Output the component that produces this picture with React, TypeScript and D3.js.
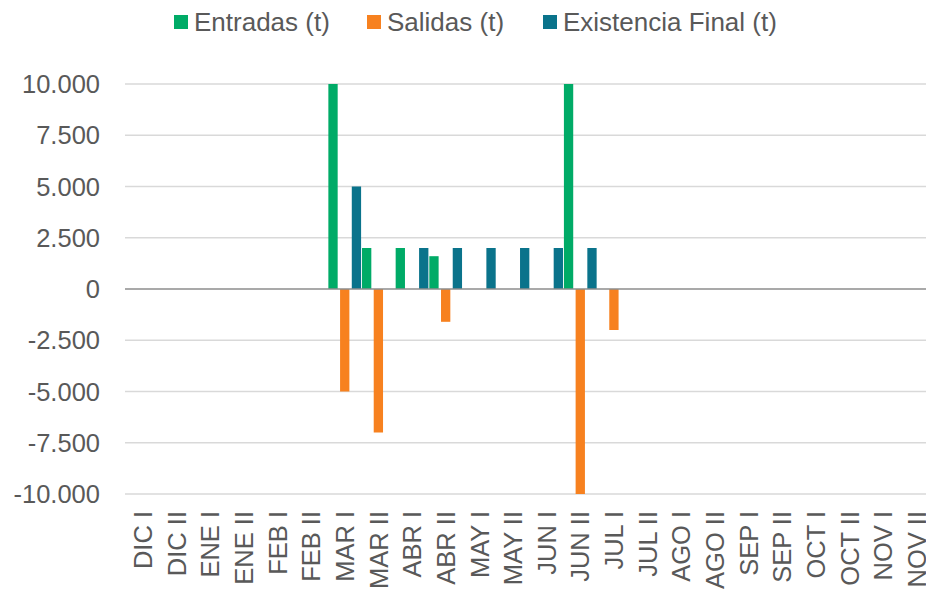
import * as d3 from 'd3';
import React, { useRef, useEffect } from 'react';

const categories = [
  'DIC I', 'DIC II', 'ENE I', 'ENE II', 'FEB I', 'FEB II', 'MAR I', 'MAR II',
  'ABR I', 'ABR II', 'MAY I', 'MAY II', 'JUN I', 'JUN II', 'JUL I', 'JUL II',
  'AGO I', 'AGO II', 'SEP I', 'SEP II', 'OCT I', 'OCT II', 'NOV I', 'NOV II'
];

const entradas = [0, 0, 0, 0, 0, 0, 10000, 2000, 2000, 1600, 0, 0, 0, 10000, 0, 0, 0, 0, 0, 0, 0, 0, 0, 0];
const salidas = [0, 0, 0, 0, 0, 0, -5000, -7000, 0, -1600, 0, 0, 0, -10000, -2000, 0, 0, 0, 0, 0, 0, 0, 0, 0];
const existencia = [0, 0, 0, 0, 0, 0, 5000, 0, 2000, 2000, 2000, 2000, 2000, 2000, 0, 0, 0, 0, 0, 0, 0, 0, 0, 0];

const seriesNames = ['Entradas (t)', 'Salidas (t)', 'Existencia Final (t)'];
const seriesColors = ['#00AB67', '#F7811F', '#0A738B'];
const yTicks = [-10000, -7500, -5000, -2500, 0, 2500, 5000, 7500, 10000];

const W = 926;
const H = 591;
const FONT = '"Liberation Sans", Arial, sans-serif';
const TEXT = '#595959';

const App = () => {
  const ref = useRef<SVGSVGElement>(null);

  useEffect(() => {
    const svg = d3.select(ref.current);
    svg.selectAll('*').remove();

    const x = d3.scaleBand().domain(categories).range([126, 933.6]).padding(0);
    const bw = x.bandwidth();
    const xs = d3.scaleBand().domain(seriesNames)
      .range([-bw * 0.522, bw * 0.522])
      .paddingInner(0.205)
      .paddingOuter(0.1025);
    const y = d3.scaleLinear().domain([-10000, 10000]).range([494, 84]);

    const locale = d3.formatLocale({ decimal: ',', thousands: '.', grouping: [3], currency: ['', ''], minus: '-' });
    const fmt = locale.format(',.0f');

    // grid
    svg.append('g')
      .selectAll('line')
      .data(yTicks.filter(d => d !== 0))
      .enter().append('line')
      .attr('x1', 125).attr('x2', W)
      .attr('y1', d => y(d)).attr('y2', d => y(d))
      .attr('stroke', '#D9D9D9')
      .attr('stroke-width', 1.3);

    // y labels
    svg.append('g')
      .selectAll('text')
      .data(yTicks)
      .enter().append('text')
      .attr('x', 100)
      .attr('y', d => y(d))
      .attr('dy', '0.36em')
      .attr('text-anchor', 'end')
      .style('font-family', FONT)
      .style('font-size', '25.5px')
      .attr('fill', TEXT)
      .text(d => fmt(d));

    const rows = categories.map((c, i) => ({ cat: c, vals: [entradas[i], salidas[i], existencia[i]] }));

    const groups = svg.append('g')
      .selectAll('g')
      .data(rows)
      .enter().append('g')
      .attr('transform', d => `translate(${x(d.cat)! + bw / 2},0)`);

    groups.selectAll('rect')
      .data(d => d.vals.map((v, k) => ({ v, k })))
      .enter().append('rect')
      .attr('x', d => xs(seriesNames[d.k])!)
      .attr('width', xs.bandwidth())
      .attr('y', d => y(Math.max(0, d.v)))
      .attr('height', d => Math.abs(y(d.v) - y(0)))
      .attr('fill', d => seriesColors[d.k]);

    // zero line
    svg.append('line')
      .attr('x1', 125).attr('x2', W)
      .attr('y1', y(0)).attr('y2', y(0))
      .attr('stroke', '#8C8C8C')
      .attr('stroke-width', 1.5);

    // x labels
    svg.append('g')
      .selectAll('text')
      .data(categories)
      .enter().append('text')
      .attr('transform', d => `translate(${x(d)! + bw / 2},511) rotate(-90)`)
      .attr('dy', '0.36em')
      .attr('text-anchor', 'end')
      .style('font-family', FONT)
      .style('font-size', '25.5px')
      .attr('fill', TEXT)
      .text(d => d);

    // legend
    const legendX = [174, 367, 543];
    const leg = svg.append('g')
      .selectAll('g')
      .data(seriesNames)
      .enter().append('g')
      .attr('transform', (d, i) => `translate(${legendX[i]},0)`);
    leg.append('rect')
      .attr('x', 0).attr('y', 15)
      .attr('width', 14).attr('height', 14)
      .attr('fill', (d, i) => seriesColors[i]);
    leg.append('text')
      .attr('x', 20).attr('y', 31)
      .style('font-family', FONT)
      .style('font-size', '26px')
      .attr('fill', TEXT)
      .text(d => d);
  }, []);

  return (
    <svg ref={ref} width={W} height={H}
      style={{ position: 'absolute', left: 0, top: 0, background: '#fff' }} />
  );
};

export default App;
